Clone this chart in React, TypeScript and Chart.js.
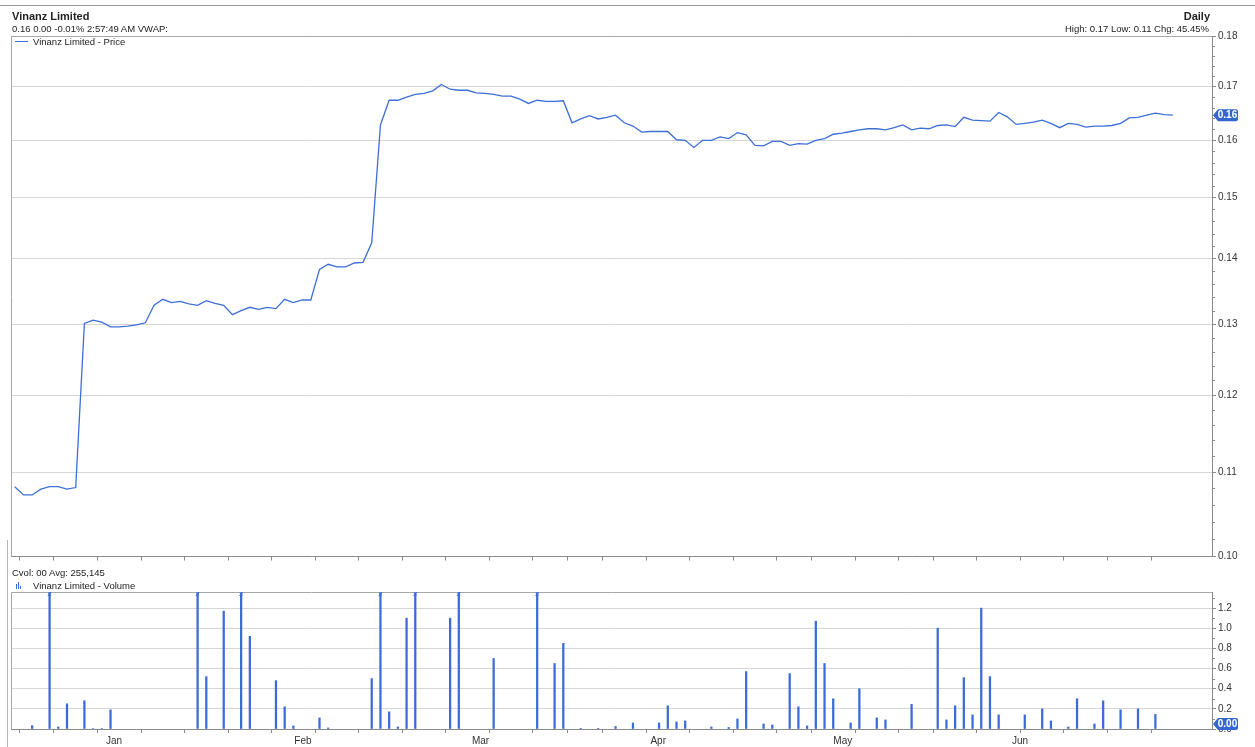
import React, { useEffect, useRef } from "react";
import { Chart, registerables } from "chart.js";

Chart.register(...registerables);

const FONT = "'Liberation Sans', Arial, Helvetica, sans-serif";
const LINE_BLUE = "#3d6fd6";
const BAR_BLUE = "#3a6bd8";
const BADGE_BLUE = "#3466cf";
const GRID = "#d6d6d6";
const AXIS = "#8a8a8a";
const TEXT = "#222222";

// ---- data (trading-day index 0..133) ----
const prices: number[] = [
  0.1082, 0.1072, 0.1072, 0.1079, 0.1082, 0.1082, 0.1079, 0.1081, 0.1301, 0.1306,
  0.1303, 0.1296, 0.1296, 0.1297, 0.1299, 0.1302, 0.1328, 0.1337, 0.1332, 0.1334,
  0.1330, 0.1328, 0.1335, 0.1331, 0.1328, 0.1314, 0.1320, 0.1325, 0.1322, 0.1325,
  0.1323, 0.1337, 0.1332, 0.1336, 0.1336, 0.1383, 0.1391, 0.1387, 0.1387, 0.1393,
  0.1394, 0.1425, 0.1628, 0.1674, 0.1674, 0.1680, 0.1685, 0.1687, 0.1692, 0.1704,
  0.1695, 0.1693, 0.1693, 0.1688, 0.1687, 0.1685, 0.1682, 0.1682, 0.1676, 0.1668,
  0.1674, 0.1672, 0.1672, 0.1673, 0.1632, 0.1639, 0.1645, 0.1639, 0.1642, 0.1646,
  0.1632, 0.1626, 0.1615, 0.1616, 0.1616, 0.1616, 0.1601, 0.1600, 0.1587, 0.1600,
  0.1600, 0.1606, 0.1603, 0.1614, 0.1610, 0.1591, 0.1590, 0.1598, 0.1598, 0.1591,
  0.1594, 0.1593, 0.1600, 0.1603, 0.1611, 0.1613, 0.1616, 0.1619, 0.1621, 0.1621,
  0.1619, 0.1623, 0.1628, 0.1619, 0.1622, 0.1621, 0.1627, 0.1628, 0.1625, 0.1642,
  0.1637, 0.1636, 0.1635, 0.1651, 0.1643, 0.1629, 0.1631, 0.1633, 0.1637, 0.1631,
  0.1623, 0.1631, 0.1629, 0.1624, 0.1626, 0.1626, 0.1627, 0.1631, 0.1641, 0.1642,
  0.1646, 0.1650, 0.1647, 0.1646,
];

// volume in millions of shares
const volumes: number[] = [
  0, 0, 0.033, 0, 2.2, 0.02, 0.25, 0, 0.28, 0.005,
  0.005, 0.19, 0, 0, 0, 0, 0, 0, 0, 0,
  0, 2.6, 0.52, 0, 1.17, 0, 1.8, 0.92, 0, 0,
  0.48, 0.22, 0.03, 0, 0, 0.11, 0.01, 0, 0, 0,
  0, 0.5, 3.2, 0.17, 0.02, 1.1, 1.7, 0, 0, 0,
  1.1, 1.5, 0, 0, 0, 0.7, 0, 0, 0, 0,
  1.4, 0, 0.65, 0.85, 0, 0.004, 0, 0.004, 0, 0.025,
  0, 0.06, 0, 0, 0.06, 0.23, 0.07, 0.08, 0, 0,
  0.02, 0, 0.015, 0.1, 0.57, 0, 0.05, 0.04, 0, 0.55,
  0.22, 0.03, 1.07, 0.65, 0.3, 0, 0.06, 0.4, 0, 0.11,
  0.09, 0, 0, 0.245, 0, 0, 1.0, 0.09, 0.23, 0.51,
  0.14, 1.2, 0.52, 0.14, 0, 0, 0.14, 0, 0.2, 0.08,
  0, 0.02, 0.3, 0, 0.05, 0.28, 0, 0.19, 0, 0.2,
  0, 0.145, 0, 0,
];

const monthLabels: string[] = ["Jan", "Feb", "Mar", "Apr", "May", "Jun"];
const monthPositions: number[] = [11.4, 33.1, 53.5, 73.9, 95.1, 115.45];
const weekTicks: number[] = [
  0.5, 4.5, 9.5, 14.5, 19.5, 24.5, 29.5, 34.5, 39.5, 44.5, 49.5, 54.5, 59.5,
  63.5, 67.5, 72.5, 77.5, 82.5, 87.5, 91.5, 96.5, 101.5, 105.5, 110.5, 115.5,
  120.5, 125.5, 130.5,
];
const priceTicks: number[] = [0.1, 0.11, 0.12, 0.13, 0.14, 0.15, 0.16, 0.17, 0.18];
const priceMinorTicks: number[] = [];
for (let k = 102; k < 180; k += 2) {
  if (k % 10 !== 0) priceMinorTicks.push(k / 1000);
}
const volumeTicks: number[] = [0, 0.2, 0.4, 0.6, 0.8, 1.0, 1.2];
const volumeMinorTicks: number[] = [0.1, 0.3, 0.5, 0.7, 0.9, 1.1, 1.3];

const X_MIN = -0.43;
const X_MAX = 137.5;
const PRICE_MIN = 0.1;
const PRICE_MAX = 0.18;
const VOL_MAX = 1.36;

function drawBadge(ctx: CanvasRenderingContext2D, x: number, y: number, text: string) {
  const h = 12;
  const w = 25;
  const tip = 5;
  ctx.save();
  ctx.fillStyle = BADGE_BLUE;
  ctx.beginPath();
  ctx.moveTo(x, y);
  ctx.lineTo(x + tip, y - h / 2);
  ctx.lineTo(x + w - 2, y - h / 2);
  ctx.quadraticCurveTo(x + w, y - h / 2, x + w, y - h / 2 + 2);
  ctx.lineTo(x + w, y + h / 2 - 2);
  ctx.quadraticCurveTo(x + w, y + h / 2, x + w - 2, y + h / 2);
  ctx.lineTo(x + tip, y + h / 2);
  ctx.closePath();
  ctx.fill();
  ctx.fillStyle = "#ffffff";
  ctx.font = `bold 10px ${FONT}`;
  ctx.textAlign = "center";
  ctx.textBaseline = "middle";
  ctx.fillText(text, x + tip + (w - tip) / 2 - 0.5, y + 0.5);
  ctx.restore();
}

function drawFrameAndMinor(chart: any, minor: number[]) {
  const { ctx, chartArea } = chart;
  const y = chart.scales.y;
  ctx.save();
  ctx.strokeStyle = "#a8a8a8";
  ctx.lineWidth = 1;
  ctx.beginPath();
  ctx.moveTo(Math.round(chartArea.left) + 0.5, chartArea.bottom);
  ctx.lineTo(Math.round(chartArea.left) + 0.5, Math.round(chartArea.top) + 0.5);
  ctx.lineTo(chartArea.right, Math.round(chartArea.top) + 0.5);
  ctx.stroke();
  ctx.strokeStyle = AXIS;
  ctx.beginPath();
  for (const v of minor) {
    const py = Math.round(y.getPixelForValue(v)) + 0.5;
    ctx.moveTo(chartArea.right, py);
    ctx.lineTo(chartArea.right + 3, py);
  }
  ctx.stroke();
  ctx.restore();
}

export default function App() {
  const priceRef = useRef<HTMLCanvasElement | null>(null);
  const volRef = useRef<HTMLCanvasElement | null>(null);

  useEffect(() => {
    Chart.defaults.font.family = FONT;
    Chart.defaults.color = "#333";

    const pricePlugin = {
      id: "priceExtras",
      afterDraw(chart: any) {
        drawFrameAndMinor(chart, priceMinorTicks);
        const y = chart.scales.y;
        const last = prices[prices.length - 1];
        drawBadge(chart.ctx, chart.chartArea.right + 1, y.getPixelForValue(last), last.toFixed(2));
      },
    };

    const volPlugin = {
      id: "volExtras",
      afterDraw(chart: any) {
        const { ctx, chartArea } = chart;
        drawFrameAndMinor(chart, volumeMinorTicks);
        const xs = chart.scales.x;
        ctx.save();
        ctx.strokeStyle = BAR_BLUE;
        ctx.lineWidth = 1;
        volumes.forEach((v, i) => {
          if (v > VOL_MAX) {
            const px = xs.getPixelForValue(i);
            const t = chartArea.top;
            ctx.beginPath();
            ctx.moveTo(px - 1.5, t + 1);
            ctx.lineTo(px + 1.5, t + 0.5);
            ctx.lineTo(px - 1.5, t + 3.5);
            ctx.lineTo(px + 1.5, t + 3);
            ctx.stroke();
          }
        });
        ctx.restore();
        const y = chart.scales.y;
        const last = volumes[volumes.length - 1];
        const py = Math.min(y.getPixelForValue(last), chartArea.bottom - 5);
        drawBadge(ctx, chartArea.right + 1, py, last.toFixed(2));
      },
    };

    const priceChart = new Chart(priceRef.current as HTMLCanvasElement, {
      type: "line",
      data: {
        datasets: [
          {
            data: prices.map((p, i) => ({ x: i, y: p })),
            borderColor: LINE_BLUE,
            borderWidth: 1.3,
            pointRadius: 0,
            tension: 0,
            fill: false,
          },
        ],
      },
      options: {
        animation: false,
        responsive: false,
        maintainAspectRatio: false,
        layout: { padding: { left: 11, top: 36, right: 0, bottom: 0 } },
        plugins: { legend: { display: false }, tooltip: { enabled: false } },
        scales: {
          x: {
            type: "linear",
            min: X_MIN,
            max: X_MAX,
            offset: false,
            afterBuildTicks: (s: any) => {
              s.ticks = weekTicks.map((v) => ({ value: v }));
            },
            afterFit: (s: any) => {
              s.height = 13.5;
            },
            ticks: { display: false, autoSkip: false },
            grid: {
              offset: false,
              drawOnChartArea: false,
              drawTicks: true,
              tickLength: 4,
              color: AXIS,
              tickColor: AXIS,
            },
            border: { display: true, color: AXIS },
          },
          y: {
            type: "logarithmic",
            position: "right",
            min: PRICE_MIN,
            max: PRICE_MAX,
            afterBuildTicks: (s: any) => {
              s.ticks = priceTicks.map((v) => ({ value: v }));
            },
            afterFit: (s: any) => {
              s.width = 43;
            },
            ticks: {
              autoSkip: false,
              callback: (v: any) => Number(v).toFixed(2),
              font: { size: 10, family: FONT },
              color: "#333",
              padding: 2,
            },
            grid: { color: GRID, tickLength: 4, tickColor: AXIS, lineWidth: 1 },
            border: { display: true, color: AXIS },
          },
        },
      } as any,
      plugins: [pricePlugin],
    });

    const volChart = new Chart(volRef.current as HTMLCanvasElement, {
      type: "bar",
      data: {
        datasets: [
          {
            data: volumes.map((v, i) => ({ x: i, y: v > 0 ? v : null })),
            backgroundColor: BAR_BLUE,
            borderWidth: 0,
            barThickness: 1.6,
          },
        ],
      },
      options: {
        animation: false,
        responsive: false,
        maintainAspectRatio: false,
        layout: { padding: { left: 11, top: 32, right: 0, bottom: 0 } },
        plugins: { legend: { display: false }, tooltip: { enabled: false } },
        scales: {
          x: {
            type: "linear",
            min: X_MIN,
            max: X_MAX,
            offset: false,
            afterBuildTicks: (s: any) => {
              const all = [...weekTicks, ...monthPositions].sort((a, b) => a - b);
              s.ticks = all.map((v) => ({ value: v }));
            },
            afterFit: (s: any) => {
              s.height = 18;
            },
            ticks: {
              autoSkip: false,
              maxRotation: 0,
              minRotation: 0,
              padding: 2,
              font: { size: 10, family: FONT },
              color: "#333",
              callback: (v: any) => {
                const k = monthPositions.indexOf(Number(v));
                return k >= 0 ? monthLabels[k] : "";
              },
            },
            grid: {
              offset: false,
              drawOnChartArea: false,
              drawTicks: true,
              tickLength: 4,
              color: AXIS,
              tickColor: (c: any) =>
                c.tick && monthPositions.indexOf(c.tick.value) >= 0 ? "rgba(0,0,0,0)" : AXIS,
            },
            border: { display: true, color: AXIS },
          },
          y: {
            type: "linear",
            position: "right",
            min: 0,
            max: VOL_MAX,
            afterBuildTicks: (s: any) => {
              s.ticks = volumeTicks.map((v) => ({ value: v }));
            },
            afterFit: (s: any) => {
              s.width = 43;
            },
            ticks: {
              autoSkip: false,
              callback: (v: any) => Number(v).toFixed(1),
              font: { size: 10, family: FONT },
              color: "#333",
              padding: 2,
            },
            grid: { color: GRID, tickLength: 4, tickColor: AXIS, lineWidth: 1 },
            border: { display: true, color: AXIS },
          },
        },
      } as any,
      plugins: [volPlugin],
    });

    return () => {
      priceChart.destroy();
      volChart.destroy();
    };
  }, []);

  const base: React.CSSProperties = {
    position: "absolute",
    fontFamily: FONT,
    color: TEXT,
    whiteSpace: "nowrap",
    margin: 0,
  };

  return (
    <div
      style={{
        position: "fixed",
        left: 0,
        top: 0,
        width: 1255,
        height: 747,
        background: "#ffffff",
        overflow: "hidden",
      }}
    >
      <div style={{ position: "absolute", left: 0, top: 5, width: 1255, height: 1, background: "#9a9a9a" }} />
      <div style={{ position: "absolute", left: 7, top: 540, width: 1, height: 207, background: "#b5b5b5" }} />

      <canvas
        ref={priceRef}
        width={1255}
        height={570}
        style={{ position: "absolute", left: 0, top: 0, width: 1255, height: 570 }}
      />
      <canvas
        ref={volRef}
        width={1255}
        height={187}
        style={{ position: "absolute", left: 0, top: 560, width: 1255, height: 187 }}
      />

      <div style={{ ...base, left: 12, top: 9, fontSize: 11, lineHeight: "14px", fontWeight: "bold" }}>
        Vinanz Limited
      </div>
      <div style={{ ...base, left: 12, top: 23, fontSize: 9.5, lineHeight: "12px" }}>
        0.16 0.00 -0.01% 2:57:49 AM VWAP:
      </div>
      <div style={{ ...base, right: 45, top: 9, fontSize: 11, lineHeight: "14px", fontWeight: "bold" }}>
        Daily
      </div>
      <div style={{ ...base, right: 46, top: 23, fontSize: 9.5, lineHeight: "12px" }}>
        High: 0.17 Low: 0.11 Chg: 45.45%
      </div>

      <div style={{ position: "absolute", left: 15, top: 41, width: 13, height: 1.3, background: LINE_BLUE }} />
      <div style={{ ...base, left: 33, top: 36, fontSize: 9.5, lineHeight: "12px" }}>
        Vinanz Limited - Price
      </div>

      <div style={{ ...base, left: 12, top: 567, fontSize: 9.5, lineHeight: "12px" }}>
        Cvol: 00 Avg: 255,145
      </div>
      <div style={{ position: "absolute", left: 16, top: 584, width: 1, height: 5, background: BAR_BLUE }} />
      <div style={{ position: "absolute", left: 18, top: 582, width: 1, height: 7, background: BAR_BLUE }} />
      <div style={{ position: "absolute", left: 20, top: 586, width: 1, height: 3, background: BAR_BLUE }} />
      <div style={{ ...base, left: 33, top: 580, fontSize: 9.5, lineHeight: "12px" }}>
        Vinanz Limited - Volume
      </div>
    </div>
  );
}
